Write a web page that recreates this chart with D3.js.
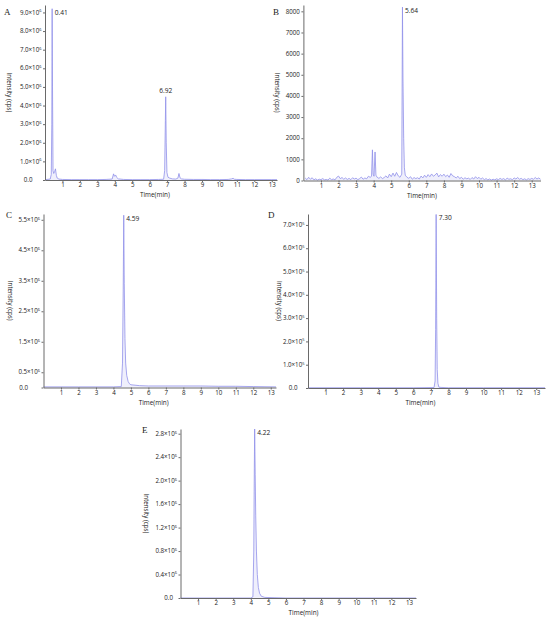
<!DOCTYPE html>
<html><head><meta charset="utf-8">
<script src="https://cdn.jsdelivr.net/npm/d3@7"></script>
<style>body{margin:0;background:#fff}svg{display:block}</style>
</head><body>
<svg id="chart" width="550" height="626"></svg>
<script>
// ---------- DATA ----------
// Panel A (intensity in 10^6 cps)
const timeA = [0.00,0.30,0.36,0.39,0.41,0.43,0.46,0.50,0.55,0.60,0.65,0.70,0.80,1.00,1.50,2.00,2.50,3.00,3.50,3.85,3.93,3.98,4.05,4.10,4.20,4.50,5.00,5.50,6.00,6.50,6.80,6.86,6.90,6.92,6.95,6.99,7.05,7.15,7.30,7.50,7.62,7.68,7.74,7.82,8.00,8.50,9.00,9.50,10.00,10.50,10.70,10.78,10.86,11.00,11.50,12.00,12.50,13.00,13.30];
const intensityA = [0.02,0.05,0.30,3.00,9.20,5.00,0.50,0.35,0.45,0.60,0.25,0.10,0.05,0.03,0.02,0.02,0.02,0.02,0.03,0.05,0.33,0.20,0.27,0.15,0.06,0.03,0.02,0.02,0.02,0.03,0.04,0.50,3.20,4.47,2.00,0.40,0.15,0.10,0.06,0.05,0.10,0.35,0.12,0.06,0.04,0.03,0.03,0.02,0.02,0.03,0.06,0.09,0.04,0.03,0.02,0.02,0.02,0.02,0.02];
const yTicksA = [0,1,2,3,4,5,6,7,8,9];
const yLabelsA = ["0.0","1.0","2.0","3.0","4.0","5.0","6.0","7.0","8.0","9.0"];
const peaksA = [{t:0.41, label:"0.41"}, {t:6.92, label:"6.92"}];

// Panel B (cps)
const timeB = [0.1,0.2,0.3,0.4,0.5,0.6,0.7,0.8,0.9,1.0,1.1,1.2,1.3,1.4,1.5,1.6,1.7,1.8,1.9,2.0,2.1,2.2,2.3,2.4,2.5,2.6,2.7,2.8,2.9,3.0,3.1,3.2,3.3,3.4,3.5,3.6,3.7,3.8,3.88,3.93,3.97,4.02,4.08,4.13,4.2,4.3,4.4,4.5,4.6,4.7,4.8,4.9,5.0,5.1,5.2,5.3,5.4,5.5,5.60,5.64,5.67,5.71,5.75,5.8,5.9,6.0,6.1,6.2,6.3,6.4,6.5,6.6,6.7,6.8,6.9,7.0,7.1,7.2,7.3,7.4,7.5,7.6,7.7,7.8,7.9,8.0,8.1,8.2,8.3,8.4,8.5,8.6,8.7,8.8,8.9,9.0,9.1,9.2,9.3,9.4,9.5,9.6,9.7,9.8,9.9,10.0,10.1,10.2,10.3,10.4,10.5,10.6,10.7,10.8,10.9,11.0,11.1,11.2,11.3,11.4,11.5,11.6,11.7,11.8,11.9,12.0,12.1,12.2,12.3,12.4,12.5,12.6,12.7,12.8,12.9,13.0,13.1,13.2,13.3,13.4,13.5];
const intensityB = [120,40,150,60,130,30,80,20,60,40,90,30,50,20,110,40,70,30,150,210,90,140,60,120,50,100,40,130,70,110,40,90,160,60,120,80,200,150,200,1450,300,200,1350,250,150,100,170,90,140,220,120,300,180,350,200,380,220,150,300,8200,4800,2000,600,250,150,100,180,60,140,90,130,70,210,120,250,150,280,180,310,200,260,350,170,280,200,300,180,260,150,330,220,180,120,200,90,150,60,130,80,110,50,140,70,180,90,150,60,120,40,90,30,70,20,60,30,80,40,100,50,90,30,110,60,80,40,120,70,140,60,100,40,80,30,90,50,100,60,140,70,120,60];
const yTicksB = [0,1000,2000,3000,4000,5000,6000,7000,8000];
const yLabelsB = ["0","1000","2000","3000","4000","5000","6000","7000","8000"];
const peaksB = [{t:5.64, label:"5.64"}];

// Panel C (10^6 cps)
const timeC = [0.00,1.00,2.00,3.00,4.00,4.45,4.52,4.56,4.59,4.62,4.66,4.70,4.76,4.84,4.92,5.00,5.50,6.00,7.00,8.00,9.00,10.00,11.00,12.00,13.30];
const intensityC = [0.02,0.02,0.02,0.02,0.02,0.03,0.80,3.20,5.65,3.40,1.60,0.80,0.40,0.20,0.12,0.09,0.06,0.05,0.05,0.05,0.05,0.04,0.04,0.03,0.02];
const yTicksC = [0,0.5,1.5,2.5,3.5,4.5,5.5];
const yLabelsC = ["0.0","0.5","1.5","2.5","3.5","4.5","5.5"];
const peaksC = [{t:4.59, label:"4.59"}];

// Panel D (10^5 cps)
const timeD = [0.00,3.00,6.00,7.18,7.24,7.27,7.30,7.33,7.36,7.40,7.46,8.00,10.00,13.50];
const intensityD = [0.01,0.01,0.01,0.02,0.30,2.50,7.45,3.00,0.80,0.20,0.03,0.01,0.01,0.01];
const yTicksD = [0,1,2,3,4,5,6,7];
const yLabelsD = ["0.0","1.0","2.0","3.0","4.0","5.0","6.0","7.0"];
const peaksD = [{t:7.30, label:"7.30"}];

// Panel E (10^6 cps)
const timeE = [0.00,2.00,4.00,4.12,4.17,4.20,4.22,4.25,4.28,4.32,4.37,4.43,4.50,4.60,4.80,6.00,9.00,13.40];
const intensityE = [0.00,0.00,0.00,0.02,0.80,2.20,2.88,2.10,1.40,0.80,0.40,0.18,0.08,0.03,0.01,0.00,0.00,0.00];
const yTicksE = [0,0.4,0.8,1.2,1.6,2.0,2.4,2.8];
const yLabelsE = ["0.0","0.4","0.8","1.2","1.6","2.0","2.4","2.8"];
const peaksE = [{t:4.22, label:"4.22"}];

const xTicks = [1,2,3,4,5,6,7,8,9,10,11,12,13];

// ---------- DRAW ----------
const svg = d3.select("#chart");
const LINE = "#9090ea";
const AXIS = "#6a6a6a";
const FONT = "'Open Sans', 'DejaVu Sans', sans-serif";

function panel(cfg){
  const g = svg.append("g");
  const x = d3.scaleLinear().domain([0, cfg.xMax]).range([cfg.left, cfg.right]);
  const y = d3.scaleLinear().domain([0, cfg.yMax]).range([cfg.bottom, cfg.top]);
  const pts = cfg.time.map((t,i)=>[t, cfg.vals[i]]);

  g.append("path").datum(pts)
    .attr("d", d3.area().x(d=>x(d[0])).y0(y(0)).y1(d=>y(d[1])))
    .attr("fill", "#d0d0f6").attr("fill-opacity", 0.35);
  g.append("path").datum(pts)
    .attr("d", d3.line().x(d=>x(d[0])).y(d=>y(d[1])))
    .attr("fill","none").attr("stroke", LINE).attr("stroke-width", 0.8)
    .attr("stroke-linejoin","round");

  const xa = g.append("g").attr("transform", `translate(0,${cfg.bottom})`)
    .call(d3.axisBottom(x).tickValues(xTicks).tickSize(2).tickSizeOuter(0).tickFormat(d3.format("d")));
  xa.select(".domain").attr("stroke", AXIS).attr("stroke-width", 1);
  xa.selectAll(".tick line").attr("stroke", AXIS);
  xa.selectAll(".tick text").attr("font-family", FONT).attr("font-size", 6.2).attr("fill","#222").attr("dy","0.55em").attr("y", 4);

  const ya = g.append("g").attr("transform", `translate(${cfg.left},0)`)
    .call(d3.axisLeft(y).tickValues(cfg.yTicks).tickSize(2).tickSizeOuter(0).tickFormat(""));
  ya.select(".domain").attr("stroke", AXIS).attr("stroke-width", 1);
  ya.selectAll(".tick line").attr("stroke", AXIS);

  cfg.yTicks.forEach((v,i)=>{
    const isZero = v === 0;
    const t = g.append("text")
      .attr("x", cfg.left - 3.5 - (isZero ? cfg.zeroShift : 0))
      .attr("y", y(v)).attr("dy","0.35em")
      .attr("text-anchor","end").attr("font-family", FONT)
      .attr("font-size", 6.2).attr("fill","#222");
    if (cfg.exp && !isZero){
      t.append("tspan").text(cfg.yLabels[i] + "×10");
      t.append("tspan").text(cfg.exp).attr("font-size", 4).attr("dy", -2.2);
    } else {
      t.text(cfg.yLabels[i]);
    }
  });

  g.append("text").attr("x", x(cfg.titleT)).attr("y", cfg.bottom + 17)
    .attr("text-anchor","middle").attr("font-family", FONT).attr("font-size", 6.4).attr("fill","#222")
    .text("Time(min)");
  g.append("text").attr("transform", `translate(${cfg.yTitleX},${(cfg.top+cfg.bottom)/2}) rotate(90)`)
    .attr("text-anchor","middle").attr("dy","0.35em").attr("font-family", FONT).attr("font-size", 6.2).attr("fill","#222")
    .text("Intensity (cps)");

  g.append("text").attr("x", cfg.letterX).attr("y", cfg.letterY)
    .attr("font-family", "'Liberation Serif','Times New Roman',serif").attr("font-size", 9).attr("fill","#222")
    .text(cfg.letter);

  cfg.peaks.forEach(p=>{
    const i = cfg.time.indexOf(p.t);
    const py = y(cfg.vals[i]);
    const centered = p.center;
    g.append("text")
      .attr("x", centered ? x(p.t) : x(p.t) + 2.5)
      .attr("y", centered ? py - 4 : py + 6)
      .attr("text-anchor", centered ? "middle" : "start")
      .attr("font-family", FONT).attr("font-size", 6.6).attr("fill","#222")
      .text(p.label);
  });
}

peaksA[1].center = true;

panel({letter:"A", letterX:4, letterY:15, time:timeA, vals:intensityA, xMax:13.3, yMax:9.4,
  left:45, right:277, top:5, bottom:180, yTicks:yTicksA, yLabels:yLabelsA, exp:"6", zeroShift:9, yTitleX:9, titleT:6.3, peaks:peaksA});
panel({letter:"B", letterX:273, letterY:15, time:timeB, vals:intensityB, xMax:13.5, yMax:8300,
  left:303.4, right:540.5, top:5, bottom:180.5, yTicks:yTicksB, yLabels:yLabelsB, exp:null, zeroShift:0, yTitleX:277, titleT:6.75, peaks:peaksB});
panel({letter:"C", letterX:6, letterY:218, time:timeC, vals:intensityC, xMax:13.3, yMax:5.69,
  left:43.5, right:276, top:214, bottom:387.5, yTicks:yTicksC, yLabels:yLabelsC, exp:"6", zeroShift:12, yTitleX:10, titleT:6.3, peaks:peaksC});
panel({letter:"D", letterX:268, letterY:218, time:timeD, vals:intensityD, xMax:13.5, yMax:7.47,
  left:308, right:545, top:214, bottom:388, yTicks:yTicksD, yLabels:yLabelsD, exp:"5", zeroShift:7, yTitleX:279, titleT:6.4, peaks:peaksD});
panel({letter:"E", letterX:142, letterY:433, time:timeE, vals:intensityE, xMax:13.4, yMax:2.88,
  left:180.5, right:416, top:429, bottom:598, yTicks:yTicksE, yLabels:yLabelsE, exp:"6", zeroShift:4, yTitleX:146, titleT:7.0, peaks:peaksE});
</script>
</body></html>
